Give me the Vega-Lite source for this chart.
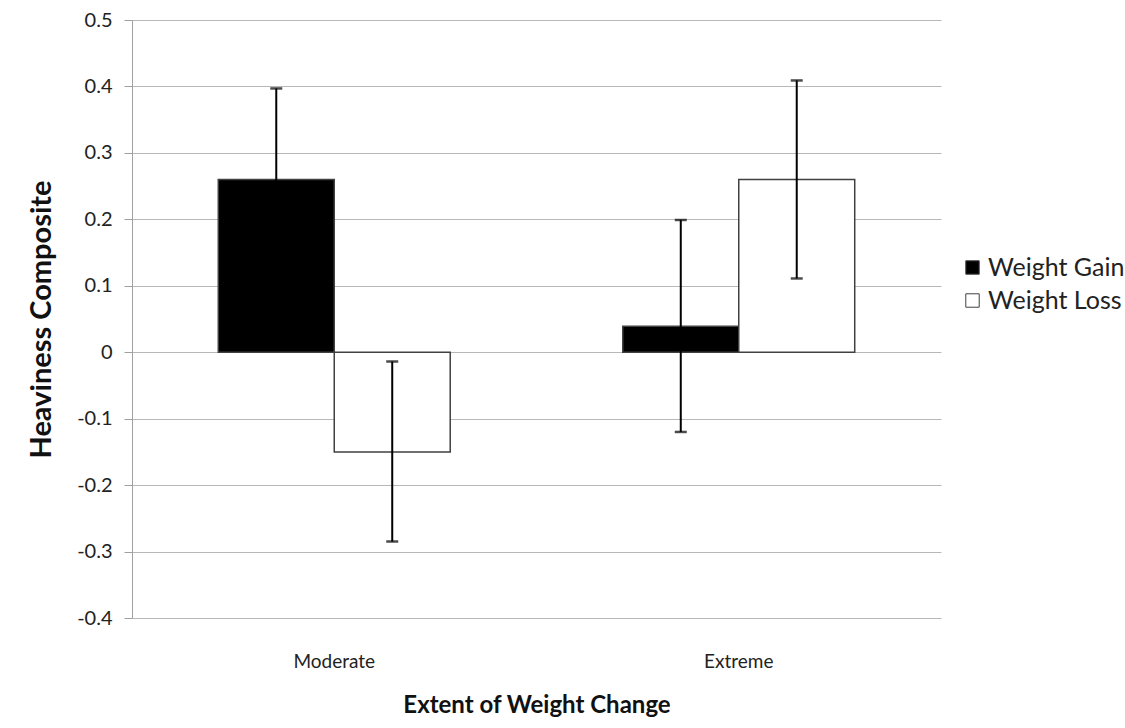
{
  "$schema": "https://vega.github.io/schema/vega-lite/v6.json",
  "autosize": {"type": "none"},
  "padding": {"left": 132, "top": 20, "right": 184, "bottom": 110},
  "width": 809,
  "height": 598,
  "background": "white",
  "config": {
    "view": {"stroke": null},
    "font": "Lato",
    "axis": {"labelFont": "Lato", "titleFont": "Lato", "labelColor": "#222", "titleColor": "#111"}
  },
  "data": {
    "values": [
      {"extent": "Moderate", "change": "Weight Gain", "mean": 0.26, "lo": 0.123, "hi": 0.397},
      {"extent": "Moderate", "change": "Weight Loss", "mean": -0.15, "lo": -0.285, "hi": -0.014},
      {"extent": "Extreme", "change": "Weight Gain", "mean": 0.039, "lo": -0.12, "hi": 0.199},
      {"extent": "Extreme", "change": "Weight Loss", "mean": 0.26, "lo": 0.111, "hi": 0.409}
    ]
  },
  "encoding": {
    "x": {
      "field": "extent", "type": "nominal", "sort": ["Moderate", "Extreme"],
      "scale": {"paddingInner": 0, "paddingOuter": 0},
      "axis": {
        "title": "Extent of Weight Change", "labelAngle": 0, "domain": false, "ticks": false,
        "labelFontSize": 19, "labelPadding": 34, "titleFontSize": 24, "titleFontWeight": "bold", "titlePadding": 22
      }
    },
    "xOffset": {
      "field": "change", "type": "nominal", "sort": ["Weight Gain", "Weight Loss"],
      "scale": {"paddingInner": 0, "paddingOuter": 0.744}
    }
  },
  "layer": [
    {
      "mark": {"type": "bar", "stroke": "#404040", "strokeWidth": 1.5},
      "encoding": {
        "y": {
          "field": "mean", "type": "quantitative",
          "scale": {"domain": [-0.4, 0.5], "nice": false, "zero": false},
          "axis": {
            "title": "Heaviness Composite", "values": [-0.4, -0.3, -0.2, -0.1, 0, 0.1, 0.2, 0.3, 0.4, 0.5],
            "labelExpr": "replace(format(datum.value, '.1~f'), '\u2212', '-')",
            "grid": true, "gridColor": "#b8b8b8", "gridWidth": 1,
            "domainColor": "#a0a0a0", "tickColor": "#a0a0a0", "tickSize": 8,
            "labelFontSize": 20, "labelPadding": 12,
            "titleFontSize": 29, "titleFontWeight": "bold", "titlePadding": 20
          }
        },
        "y2": {"datum": 0},
        "fill": {
          "field": "change", "type": "nominal",
          "scale": {"domain": ["Weight Gain", "Weight Loss"], "range": ["#000000", "#ffffff"]},
          "legend": {
            "title": null, "orient": "none", "legendX": 828, "legendY": 235,
            "symbolType": "square", "symbolSize": 180, "symbolStrokeColor": "#404040", "symbolStrokeWidth": 1,
            "labelFontSize": 25, "labelFont": "Lato", "labelColor": "#222", "rowPadding": 7, "labelOffset": 3
          }
        }
      }
    },
    {
      "mark": {"type": "rule", "color": "#000", "strokeWidth": 2},
      "encoding": {
        "y": {"field": "lo", "type": "quantitative"},
        "y2": {"field": "hi"}
      }
    },
    {
      "mark": {"type": "tick", "color": "#000", "size": 12, "thickness": 2.5},
      "encoding": {"y": {"field": "lo", "type": "quantitative"}}
    },
    {
      "mark": {"type": "tick", "color": "#000", "size": 12, "thickness": 2.5},
      "encoding": {"y": {"field": "hi", "type": "quantitative"}}
    }
  ]
}
